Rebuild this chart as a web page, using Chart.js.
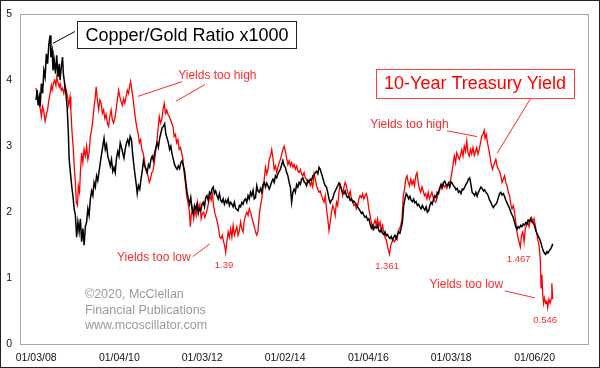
<!DOCTYPE html>
<html>
<head>
<meta charset="utf-8">
<title>Copper/Gold Ratio vs 10-Year Treasury Yield</title>
<style>
  html, body { margin: 0; padding: 0; background: #fff; }
  canvas { display: block; }
</style>
<script src="https://cdn.jsdelivr.net/npm/chart.js@4.4.1/dist/chart.umd.min.js"></script>
</head>
<body>
<canvas id="chart" width="600" height="368"></canvas>
<script>
// Copper/Gold ratio x1000 (black), dates as decimal years
const ratioDates = [
  2008.00,2008.03,2008.05,2008.08,2008.10,2008.13,2008.16,2008.19,2008.22,2008.25,
  2008.28,2008.31,2008.34,2008.36,2008.39,2008.41,2008.44,2008.47,2008.50,2008.53,
  2008.56,2008.58,2008.61,2008.64,2008.66,2008.69,2008.72,2008.75,2008.78,2008.80,
  2008.83,2008.86,2008.89,2008.92,2008.95,2008.98,2009.01,2009.04,2009.07,2009.10,
  2009.13,2009.16,2009.19,2009.22,2009.25,2009.28,2009.31,2009.34,2009.37,2009.40,
  2009.43,2009.46,2009.49,2009.52,2009.55,2009.58,2009.61,2009.64,2009.67,2009.70,
  2009.73,2009.76,2009.79,2009.82,2009.85,2009.88,2009.91,2009.94,2009.97,2010.00,
  2010.03,2010.06,2010.09,2010.12,2010.15,2010.18,2010.21,2010.24,2010.27,2010.30,
  2010.33,2010.36,2010.39,2010.42,2010.44,2010.47,2010.50,2010.53,2010.56,2010.59,
  2010.62,2010.65,2010.68,2010.71,2010.74,2010.77,2010.80,2010.83,2010.86,2010.89,
  2010.92,2010.95,2010.98,2011.01,2011.04,2011.07,2011.10,2011.13,2011.16,2011.19,
  2011.22,2011.25,2011.28,2011.31,2011.34,2011.37,2011.40,2011.43,2011.46,2011.49,
  2011.52,2011.55,2011.58,2011.61,2011.64,2011.67,2011.70,2011.73,2011.76,2011.79,
  2011.82,2011.85,2011.88,2011.91,2011.94,2011.97,2012.00,2012.03,2012.06,2012.09,
  2012.12,2012.15,2012.18,2012.21,2012.24,2012.27,2012.30,2012.33,2012.36,2012.39,
  2012.42,2012.45,2012.48,2012.51,2012.54,2012.57,2012.60,2012.63,2012.66,2012.69,
  2012.72,2012.75,2012.78,2012.81,2012.84,2012.87,2012.90,2012.93,2012.96,2012.99,
  2013.02,2013.05,2013.08,2013.11,2013.14,2013.17,2013.20,2013.23,2013.26,2013.29,
  2013.32,2013.35,2013.38,2013.41,2013.44,2013.47,2013.50,2013.53,2013.56,2013.59,
  2013.62,2013.65,2013.68,2013.71,2013.74,2013.77,2013.80,2013.83,2013.86,2013.89,
  2013.92,2013.95,2013.98,2014.01,2014.04,2014.07,2014.10,2014.13,2014.16,2014.19,
  2014.22,2014.25,2014.28,2014.31,2014.34,2014.37,2014.40,2014.43,2014.46,2014.49,
  2014.52,2014.55,2014.58,2014.61,2014.64,2014.67,2014.70,2014.73,2014.76,2014.79,
  2014.82,2014.85,2014.88,2014.91,2014.94,2014.97,2015.00,2015.03,2015.06,2015.09,
  2015.12,2015.15,2015.18,2015.21,2015.24,2015.27,2015.30,2015.33,2015.36,2015.39,
  2015.42,2015.45,2015.48,2015.51,2015.54,2015.57,2015.60,2015.63,2015.66,2015.69,
  2015.72,2015.75,2015.78,2015.81,2015.84,2015.87,2015.90,2015.93,2015.96,2015.99,
  2016.02,2016.05,2016.08,2016.11,2016.14,2016.17,2016.20,2016.23,2016.26,2016.29,
  2016.32,2016.35,2016.38,2016.41,2016.44,2016.47,2016.50,2016.53,2016.56,2016.59,
  2016.62,2016.65,2016.68,2016.71,2016.74,2016.77,2016.80,2016.83,2016.86,2016.89,
  2016.92,2016.95,2016.98,2017.01,2017.04,2017.07,2017.10,2017.13,2017.16,2017.19,
  2017.22,2017.25,2017.28,2017.31,2017.34,2017.37,2017.40,2017.43,2017.46,2017.49,
  2017.52,2017.55,2017.58,2017.61,2017.64,2017.67,2017.70,2017.73,2017.76,2017.79,
  2017.82,2017.85,2017.88,2017.91,2017.94,2017.97,2018.00,2018.03,2018.06,2018.09,
  2018.12,2018.15,2018.18,2018.21,2018.24,2018.27,2018.30,2018.33,2018.36,2018.39,
  2018.42,2018.45,2018.48,2018.51,2018.54,2018.57,2018.60,2018.63,2018.66,2018.69,
  2018.72,2018.75,2018.78,2018.81,2018.84,2018.87,2018.90,2018.93,2018.96,2018.99,
  2019.02,2019.05,2019.08,2019.11,2019.14,2019.17,2019.20,2019.23,2019.26,2019.29,
  2019.32,2019.35,2019.38,2019.41,2019.44,2019.47,2019.50,2019.53,2019.56,2019.59,
  2019.62,2019.65,2019.68,2019.71,2019.74,2019.77,2019.80,2019.83,2019.86,2019.89,
  2019.92,2019.95,2019.98,2020.01,2020.04,2020.07,2020.10,2020.13,2020.16,2020.19,
  2020.22,2020.25,2020.28,2020.31,2020.34,2020.37,2020.40,2020.43,2020.45
];
const ratioValues = [
  3.70,3.85,3.62,3.75,3.60,3.95,3.80,4.15,4.05,4.40,
  4.25,4.55,4.68,4.35,4.45,4.15,4.30,4.10,4.38,4.05,
  4.25,4.00,4.20,4.35,4.10,3.95,3.80,3.60,3.20,2.80,
  2.60,2.40,2.25,2.05,1.95,1.62,1.85,1.70,1.90,1.55,
  1.75,1.50,1.78,1.85,2.05,1.95,2.20,2.32,2.25,2.45,
  2.38,2.55,2.48,2.62,2.75,2.88,3.00,3.12,2.95,3.02,
  2.85,2.78,2.70,2.80,2.62,2.68,2.60,2.82,2.92,2.85,
  3.05,2.98,2.90,2.82,2.95,3.05,3.10,3.02,3.15,3.10,
  2.88,2.70,2.55,2.40,2.28,2.40,2.35,2.50,2.62,2.78,
  2.70,2.66,2.60,2.72,2.68,2.80,2.85,2.78,2.90,2.98,
  3.05,2.98,3.12,3.20,3.28,3.30,3.34,3.18,3.12,3.05,
  2.95,3.00,2.88,2.80,2.72,2.68,2.65,2.70,2.66,2.75,
  2.78,2.70,2.62,2.45,2.30,2.20,2.12,2.22,2.05,1.98,
  2.10,2.05,2.12,1.98,2.05,2.02,2.12,2.15,2.08,2.22,
  2.25,2.18,2.30,2.27,2.35,2.38,2.28,2.32,2.25,2.20,
  2.28,2.18,2.15,2.20,2.12,2.18,2.14,2.20,2.10,2.15,
  2.12,2.08,2.15,2.06,2.04,2.02,2.10,2.08,2.15,2.12,
  2.18,2.20,2.15,2.25,2.20,2.30,2.25,2.33,2.20,2.22,
  2.40,2.32,2.30,2.36,2.30,2.42,2.45,2.38,2.44,2.40,
  2.35,2.40,2.46,2.50,2.45,2.55,2.52,2.58,2.62,2.65,
  2.72,2.78,2.70,2.68,2.60,2.55,2.45,2.38,2.15,2.30,
  2.35,2.30,2.42,2.38,2.45,2.42,2.50,2.52,2.46,2.44,
  2.40,2.48,2.45,2.50,2.48,2.55,2.56,2.60,2.62,2.58,
  2.68,2.65,2.58,2.52,2.45,2.40,2.38,2.30,2.20,2.14,
  2.18,2.20,2.28,2.32,2.36,2.40,2.44,2.40,2.35,2.30,
  2.28,2.32,2.25,2.22,2.24,2.18,2.20,2.15,2.17,2.14,
  2.12,2.08,2.05,2.02,1.98,2.00,1.95,1.92,1.94,1.88,
  1.90,1.82,1.76,1.80,1.74,1.78,1.76,1.80,1.72,1.70,
  1.74,1.68,1.66,1.70,1.64,1.66,1.62,1.60,1.63,1.58,
  1.62,1.65,1.60,1.66,1.70,1.68,1.76,1.85,2.10,2.20,
  2.28,2.25,2.20,2.24,2.18,2.16,2.20,2.14,2.16,2.10,
  2.12,2.08,2.05,2.10,2.06,2.03,2.08,2.00,2.02,2.10,
  2.15,2.12,2.20,2.25,2.22,2.30,2.28,2.36,2.42,2.38,
  2.45,2.47,2.42,2.40,2.44,2.38,2.46,2.44,2.40,2.38,
  2.34,2.36,2.30,2.32,2.28,2.35,2.34,2.38,2.42,2.45,
  2.50,2.52,2.42,2.30,2.28,2.25,2.30,2.24,2.30,2.34,
  2.38,2.36,2.32,2.34,2.30,2.28,2.24,2.18,2.15,2.10,
  2.07,2.10,2.12,2.15,2.22,2.28,2.30,2.26,2.28,2.24,
  2.18,2.14,2.10,2.06,2.00,1.96,1.92,1.85,1.78,1.74,
  1.78,1.76,1.80,1.78,1.82,1.80,1.84,1.82,1.88,1.86,
  1.90,1.85,1.84,1.80,1.72,1.68,1.64,1.60,1.55,1.48,
  1.42,1.38,1.36,1.40,1.38,1.42,1.44,1.48,1.52
];

// 10-year Treasury yield (red)
const yieldDates = [
  2008.00,2008.03,2008.05,2008.08,2008.11,2008.13,2008.16,2008.19,2008.22,2008.25,
  2008.28,2008.31,2008.34,2008.37,2008.39,2008.42,2008.45,2008.48,2008.50,2008.53,
  2008.56,2008.58,2008.61,2008.64,2008.67,2008.70,2008.73,2008.76,2008.79,2008.82,
  2008.84,2008.87,2008.90,2008.92,2008.95,2008.97,2009.00,2009.02,2009.05,2009.07,
  2009.10,2009.13,2009.16,2009.19,2009.22,2009.25,2009.28,2009.31,2009.34,2009.37,
  2009.40,2009.43,2009.45,2009.48,2009.51,2009.54,2009.57,2009.60,2009.63,2009.66,
  2009.69,2009.72,2009.75,2009.78,2009.81,2009.84,2009.87,2009.90,2009.93,2009.96,
  2009.99,2010.02,2010.05,2010.08,2010.11,2010.14,2010.17,2010.20,2010.23,2010.26,
  2010.28,2010.31,2010.34,2010.37,2010.40,2010.43,2010.46,2010.49,2010.52,2010.55,
  2010.58,2010.61,2010.64,2010.67,2010.70,2010.73,2010.76,2010.79,2010.82,2010.85,
  2010.88,2010.91,2010.94,2010.97,2011.00,2011.03,2011.06,2011.09,2011.12,2011.15,
  2011.18,2011.21,2011.24,2011.27,2011.30,2011.33,2011.36,2011.39,2011.42,2011.45,
  2011.48,2011.51,2011.54,2011.57,2011.60,2011.63,2011.66,2011.69,2011.72,2011.74,
  2011.77,2011.80,2011.83,2011.86,2011.89,2011.92,2011.95,2011.98,2012.01,2012.04,
  2012.07,2012.10,2012.13,2012.16,2012.19,2012.22,2012.25,2012.28,2012.31,2012.34,
  2012.37,2012.40,2012.43,2012.46,2012.49,2012.52,2012.55,2012.57,2012.60,2012.63,
  2012.66,2012.69,2012.72,2012.75,2012.78,2012.81,2012.84,2012.87,2012.90,2012.93,
  2012.96,2012.99,2013.02,2013.05,2013.08,2013.11,2013.14,2013.17,2013.20,2013.23,
  2013.26,2013.29,2013.32,2013.35,2013.38,2013.41,2013.44,2013.47,2013.50,2013.53,
  2013.56,2013.59,2013.62,2013.65,2013.68,2013.71,2013.74,2013.77,2013.80,2013.83,
  2013.86,2013.89,2013.92,2013.95,2013.98,2014.01,2014.04,2014.07,2014.10,2014.13,
  2014.16,2014.19,2014.22,2014.25,2014.28,2014.31,2014.34,2014.37,2014.40,2014.43,
  2014.46,2014.49,2014.52,2014.55,2014.58,2014.61,2014.64,2014.67,2014.70,2014.73,
  2014.76,2014.79,2014.82,2014.85,2014.88,2014.91,2014.94,2014.97,2015.00,2015.03,
  2015.06,2015.09,2015.12,2015.15,2015.18,2015.21,2015.24,2015.27,2015.30,2015.33,
  2015.36,2015.39,2015.42,2015.45,2015.48,2015.51,2015.54,2015.57,2015.60,2015.63,
  2015.66,2015.69,2015.72,2015.75,2015.78,2015.81,2015.84,2015.87,2015.90,2015.93,
  2015.96,2015.99,2016.02,2016.05,2016.08,2016.11,2016.14,2016.17,2016.20,2016.23,
  2016.26,2016.29,2016.32,2016.35,2016.38,2016.41,2016.44,2016.47,2016.50,2016.52,
  2016.55,2016.58,2016.61,2016.64,2016.67,2016.70,2016.73,2016.76,2016.79,2016.82,
  2016.85,2016.88,2016.91,2016.94,2016.97,2017.00,2017.03,2017.06,2017.09,2017.12,
  2017.15,2017.18,2017.21,2017.24,2017.27,2017.30,2017.33,2017.36,2017.39,2017.42,
  2017.45,2017.48,2017.51,2017.54,2017.57,2017.60,2017.63,2017.66,2017.69,2017.72,
  2017.75,2017.78,2017.81,2017.84,2017.87,2017.90,2017.93,2017.96,2017.99,2018.02,
  2018.05,2018.08,2018.11,2018.14,2018.17,2018.20,2018.23,2018.26,2018.29,2018.32,
  2018.35,2018.38,2018.41,2018.44,2018.47,2018.50,2018.53,2018.56,2018.59,2018.62,
  2018.65,2018.68,2018.71,2018.74,2018.77,2018.80,2018.82,2018.85,2018.88,2018.91,
  2018.94,2018.97,2019.00,2019.02,2019.05,2019.08,2019.11,2019.14,2019.17,2019.20,
  2019.23,2019.26,2019.29,2019.32,2019.35,2019.38,2019.41,2019.44,2019.47,2019.50,
  2019.53,2019.56,2019.59,2019.62,2019.65,2019.67,2019.70,2019.73,2019.76,2019.79,
  2019.82,2019.85,2019.88,2019.91,2019.94,2019.97,2020.00,2020.03,2020.06,2020.09,
  2020.12,2020.15,2020.17,2020.19,2020.21,2020.23,2020.25,2020.28,2020.31,2020.33,
  2020.36,2020.39,2020.42,2020.43,2020.45
];
const yieldValues = [
  3.88,3.78,3.70,3.62,3.55,3.45,3.60,3.52,3.38,3.48,
  3.55,3.70,3.80,3.92,3.85,3.95,4.00,3.92,4.05,3.96,
  3.90,3.95,3.85,3.88,3.80,3.92,3.85,3.75,3.62,3.75,
  3.55,3.20,2.95,2.70,2.45,2.15,2.10,2.40,2.30,2.60,
  2.90,2.75,2.95,2.85,3.00,2.80,2.90,3.15,3.25,3.40,
  3.60,3.75,3.90,3.70,3.55,3.70,3.65,3.50,3.55,3.42,
  3.48,3.35,3.30,3.45,3.55,3.40,3.35,3.42,3.55,3.70,
  3.85,3.75,3.68,3.62,3.72,3.65,3.75,3.85,3.80,3.92,
  3.98,3.85,3.72,3.55,3.40,3.28,3.20,3.05,3.10,2.95,
  2.90,2.80,2.65,2.60,2.55,2.45,2.50,2.60,2.62,2.75,
  2.90,3.05,3.25,3.45,3.35,3.40,3.55,3.65,3.50,3.55,
  3.48,3.45,3.40,3.35,3.30,3.15,3.18,3.05,3.10,2.95,
  2.98,2.90,2.80,2.60,2.45,2.25,2.15,2.05,1.78,1.95,
  2.05,1.90,2.05,1.95,2.15,2.05,2.12,1.90,1.98,2.00,
  1.92,1.98,2.05,2.15,2.25,2.18,2.28,2.10,1.98,1.92,
  1.85,1.75,1.62,1.60,1.65,1.55,1.48,1.39,1.55,1.70,
  1.62,1.75,1.62,1.80,1.65,1.72,1.78,1.65,1.72,1.85,
  1.75,1.70,1.88,1.95,2.00,1.95,2.05,2.00,1.92,1.85,
  1.78,1.70,1.65,1.72,1.95,2.10,2.20,2.35,2.50,2.68,
  2.58,2.65,2.80,2.85,2.95,2.82,2.65,2.70,2.60,2.68,
  2.75,2.80,2.88,2.95,3.00,2.92,2.82,2.72,2.78,2.70,
  2.75,2.68,2.72,2.65,2.70,2.62,2.60,2.65,2.58,2.55,
  2.60,2.52,2.50,2.45,2.48,2.40,2.45,2.38,2.58,2.50,
  2.40,2.35,2.30,2.32,2.25,2.20,2.15,2.25,2.05,1.90,
  1.72,1.85,2.00,2.10,2.05,1.95,2.15,2.10,2.30,2.42,
  2.35,2.25,2.38,2.45,2.40,2.30,2.25,2.32,2.20,2.18,
  2.10,2.12,2.05,2.10,2.20,2.25,2.22,2.28,2.20,2.25,
  2.28,2.20,2.05,1.95,1.85,1.75,1.82,1.88,1.80,1.90,
  1.78,1.85,1.72,1.80,1.70,1.62,1.58,1.48,1.40,1.36,
  1.50,1.55,1.58,1.55,1.60,1.58,1.72,1.75,1.80,1.90,
  2.25,2.35,2.50,2.55,2.45,2.40,2.50,2.42,2.48,2.40,
  2.55,2.60,2.45,2.35,2.30,2.38,2.32,2.25,2.28,2.20,
  2.30,2.20,2.25,2.30,2.22,2.18,2.15,2.20,2.30,2.36,
  2.40,2.35,2.42,2.38,2.40,2.36,2.42,2.45,2.48,2.60,
  2.72,2.85,2.75,2.90,2.85,2.80,2.86,2.95,2.85,3.00,
  2.92,3.08,2.90,2.85,2.95,2.88,2.98,2.86,2.92,2.98,
  2.88,2.95,3.05,3.15,3.18,3.24,3.12,3.18,3.05,2.95,
  2.85,2.72,2.65,2.70,2.75,2.80,2.70,2.65,2.62,2.55,
  2.45,2.50,2.55,2.45,2.40,2.30,2.25,2.12,2.05,2.10,
  2.00,1.85,1.70,1.60,1.52,1.47,1.65,1.70,1.55,1.75,
  1.80,1.85,1.78,1.88,1.92,1.85,1.90,1.80,1.70,1.58,
  1.50,1.30,0.85,1.05,0.75,0.62,0.70,0.62,0.65,0.55,
  0.68,0.62,0.70,0.92,0.68
];

const xTickValues = [2008.005, 2010.008, 2012.005, 2014.003, 2016.008, 2018.005, 2020.014];
const xTickLabels = ['01/03/08', '01/04/10', '01/03/12', '01/02/14', '01/04/16', '01/03/18', '01/06/20'];
const yTickValues = [0, 1, 2, 3, 4, 5];

const FONT = '"Liberation Sans", Arial, sans-serif';
const RED = '#ff0000';
const NOTE_RED = '#ff2a2a';

// text annotations, anchored in data units (year, value)
const notes = [
  { text: 'Copper/Gold Ratio x1000', at: [2011.64, 4.687], size: 18, color: '#000', box: { stroke: '#222', padX: 8, h: 27 } },
  { text: '10-Year Treasury Yield', at: [2018.58, 3.957], size: 18, color: RED, box: { stroke: '#ff4040', padX: 8, h: 29 } },
  { text: 'Yields too high', at: [2012.37, 4.083], size: 12, color: NOTE_RED },
  { text: 'Yields too high', at: [2017.00, 3.338], size: 12, color: NOTE_RED },
  { text: 'Yields too low', at: [2010.84, 1.326], size: 12, color: NOTE_RED },
  { text: 'Yields too low', at: [2018.37, 0.909], size: 12, color: NOTE_RED },
  { text: '1.39', at: [2012.53, 1.207], size: 9.5, color: NOTE_RED },
  { text: '1.361', at: [2016.46, 1.192], size: 9.5, color: NOTE_RED },
  { text: '1.467', at: [2019.63, 1.297], size: 9.5, color: NOTE_RED },
  { text: '0.546', at: [2020.27, 0.373], size: 9.5, color: NOTE_RED },
  { text: '\u00a92020, McClellan', at: [2009.18, 0.760], size: 12.5, color: '#9a9a9a', align: 'left' },
  { text: 'Financial Publications', at: [2009.18, 0.522], size: 12.5, color: '#9a9a9a', align: 'left' },
  { text: 'www.mcoscillator.com', at: [2009.18, 0.298], size: 12.5, color: '#9a9a9a', align: 'left' }
];

const leaders = [
  { from: [2008.94, 4.739], to: [2008.41, 4.560], color: '#000' },
  { from: [2011.52, 3.979], to: [2010.46, 3.756], color: NOTE_RED },
  { from: [2012.07, 3.934], to: [2011.37, 3.681], color: NOTE_RED },
  { from: [2019.95, 3.756], to: [2019.11, 2.891], color: NOTE_RED },
  { from: [2017.90, 3.234], to: [2018.63, 3.145], color: NOTE_RED },
  { from: [2011.78, 1.326], to: [2012.19, 1.520], color: NOTE_RED },
  { from: [2019.30, 0.805], to: [2020.02, 0.700], color: NOTE_RED }
];

const toPoints = (dates, values) => dates.map((d, i) => ({ x: d, y: values[i] }));

const framePlugin = {
  id: 'frame',
  beforeDraw(chart) {
    const { ctx, width, height } = chart;
    ctx.save();
    ctx.fillStyle = '#fff';
    ctx.fillRect(0, 0, width, height);
    ctx.restore();
  },
  afterDraw(chart) {
    const { ctx, chartArea: a, width, height } = chart;
    ctx.save();
    ctx.strokeStyle = '#a8a8a8';
    ctx.lineWidth = 1;
    ctx.strokeRect(Math.round(a.left) + 0.5, Math.round(a.top) + 0.5,
      Math.round(a.right - a.left), Math.round(a.bottom - a.top));
    ctx.strokeStyle = '#222';
    ctx.strokeRect(0.5, 0.5, width - 1, height - 1);
    ctx.restore();
  }
};

const notesPlugin = {
  id: 'notes',
  afterDraw(chart) {
    const { ctx } = chart;
    const xs = chart.scales.x;
    const ys = chart.scales.y;
    const px = p => [xs.getPixelForValue(p[0]), ys.getPixelForValue(p[1])];
    ctx.save();
    leaders.forEach(l => {
      const a = px(l.from);
      const b = px(l.to);
      ctx.strokeStyle = l.color;
      ctx.lineWidth = 1;
      ctx.beginPath();
      ctx.moveTo(a[0], a[1]);
      ctx.lineTo(b[0], b[1]);
      ctx.stroke();
    });
    notes.forEach(n => {
      const [x, y] = px(n.at);
      ctx.font = `${n.size}px ${FONT}`;
      ctx.textBaseline = 'middle';
      ctx.textAlign = n.align || 'center';
      if (n.box) {
        const w = ctx.measureText(n.text).width + n.box.padX * 2;
        const left = Math.round(x - w / 2) + 0.5;
        const top = Math.round(y - n.box.h / 2) + 0.5;
        ctx.fillStyle = '#fff';
        ctx.fillRect(left, top, Math.round(w), n.box.h);
        ctx.strokeStyle = n.box.stroke;
        ctx.lineWidth = 1;
        ctx.strokeRect(left, top, Math.round(w), n.box.h);
      }
      ctx.fillStyle = n.color;
      ctx.fillText(n.text, x, y + 1);
    });
    ctx.restore();
  }
};

new Chart(document.getElementById('chart'), {
  type: 'line',
  data: {
    datasets: [
      {
        label: 'Copper/Gold Ratio x1000',
        data: toPoints(ratioDates, ratioValues),
        borderColor: '#000',
        borderWidth: 1.5,
        pointRadius: 0,
        tension: 0
      },
      {
        label: '10-Year Treasury Yield',
        data: toPoints(yieldDates, yieldValues),
        borderColor: RED,
        borderWidth: 1.3,
        pointRadius: 0,
        tension: 0
      }
    ]
  },
  options: {
    responsive: false,
    devicePixelRatio: 1,
    animation: false,
    layout: { padding: { top: 8, right: 12, left: 0, bottom: 0 } },
    plugins: {
      legend: { display: false },
      tooltip: { enabled: false }
    },
    scales: {
      x: {
        type: 'linear',
        min: 2007.615,
        max: 2021.301,
        grid: { display: false, drawTicks: false },
        border: { display: false },
        afterBuildTicks: scale => {
          scale.ticks = xTickValues.map(v => ({ value: v }));
        },
        afterFit: scale => { scale.height = 24; },
        ticks: {
          autoSkip: false,
          maxRotation: 0,
          padding: 8,
          color: '#111',
          font: { family: FONT, size: 10.5 },
          callback: (value, index) => xTickLabels[index]
        }
      },
      y: {
        min: 0,
        max: 5,
        grid: { display: false, drawTicks: false },
        border: { display: false },
        afterBuildTicks: scale => {
          scale.ticks = yTickValues.map(v => ({ value: v }));
        },
        afterFit: scale => { scale.width = 20; },
        ticks: {
          padding: 8,
          color: '#111',
          font: { family: FONT, size: 10.5 }
        }
      }
    }
  },
  plugins: [framePlugin, notesPlugin]
});
</script>
</body>
</html>
